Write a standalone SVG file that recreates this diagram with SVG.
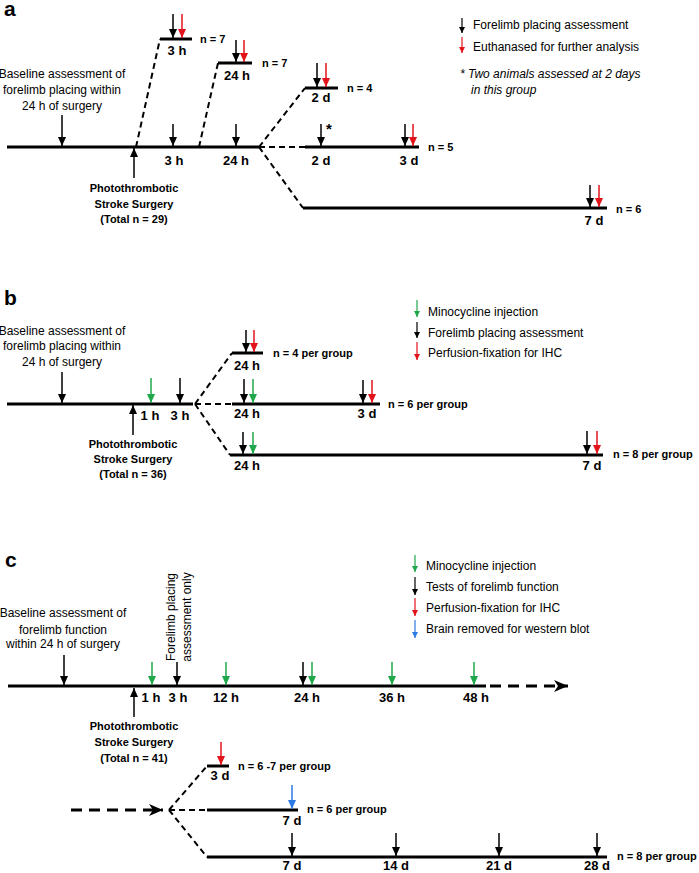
<svg xmlns="http://www.w3.org/2000/svg" width="699" height="873" viewBox="0 0 699 873">
<style>
  text { font-family: "Liberation Sans", Arial, sans-serif; fill: #000; }
  .pl { font-size: 21px; font-weight: bold; }
  .t { font-size: 12px; }
  .tm { font-size: 12px; text-anchor: middle; }
  .b { font-size: 11px; font-weight: bold; text-anchor: middle; }
  .lab { font-size: 13px; font-weight: bold; text-anchor: middle; }
  .n { font-size: 11px; font-weight: bold; }
  .it { font-size: 12px; font-style: italic; }
  .ln { stroke: #000; stroke-width: 3; fill: none; }
  .ds { stroke: #000; stroke-width: 2; fill: none; stroke-dasharray: 6 4; }
  .dsa { stroke: #000; stroke-width: 3; fill: none; stroke-dasharray: 11 7; }
  .ak { stroke: #000; stroke-width: 1.5; marker-end: url(#hk); }
  .ar { stroke: #e3131b; stroke-width: 1.5; marker-end: url(#hr); }
  .ag { stroke: #1ea84b; stroke-width: 1.5; marker-end: url(#hg); }
  .ab { stroke: #2c7be5; stroke-width: 1.5; marker-end: url(#hb); }
  .lk { stroke: #000; stroke-width: 1.2; marker-end: url(#sk); }
  .lr { stroke: #e3131b; stroke-width: 1.2; marker-end: url(#sr); }
  .lg { stroke: #1ea84b; stroke-width: 1.2; marker-end: url(#sg); }
  .lb { stroke: #2c7be5; stroke-width: 1.2; marker-end: url(#sb); }
</style>
<defs>
  <marker id="hk" markerUnits="userSpaceOnUse" markerWidth="10" markerHeight="9" refX="9" refY="4" orient="auto"><path d="M0,0 L9,4 L0,8 z" fill="#000"/></marker>
  <marker id="hr" markerUnits="userSpaceOnUse" markerWidth="10" markerHeight="9" refX="9" refY="4" orient="auto"><path d="M0,0 L9,4 L0,8 z" fill="#e3131b"/></marker>
  <marker id="hg" markerUnits="userSpaceOnUse" markerWidth="10" markerHeight="9" refX="9" refY="4" orient="auto"><path d="M0,0 L9,4 L0,8 z" fill="#1ea84b"/></marker>
  <marker id="hb" markerUnits="userSpaceOnUse" markerWidth="10" markerHeight="9" refX="9" refY="4" orient="auto"><path d="M0,0 L9,4 L0,8 z" fill="#2c7be5"/></marker>
  <marker id="sk" markerUnits="userSpaceOnUse" markerWidth="7" markerHeight="6" refX="6" refY="3" orient="auto"><path d="M0,0 L6,3 L0,6 z" fill="#000"/></marker>
  <marker id="sr" markerUnits="userSpaceOnUse" markerWidth="7" markerHeight="6" refX="6" refY="3" orient="auto"><path d="M0,0 L6,3 L0,6 z" fill="#e3131b"/></marker>
  <marker id="sg" markerUnits="userSpaceOnUse" markerWidth="7" markerHeight="6" refX="6" refY="3" orient="auto"><path d="M0,0 L6,3 L0,6 z" fill="#1ea84b"/></marker>
  <marker id="sb" markerUnits="userSpaceOnUse" markerWidth="7" markerHeight="6" refX="6" refY="3" orient="auto"><path d="M0,0 L6,3 L0,6 z" fill="#2c7be5"/></marker>
  <marker id="st" markerUnits="userSpaceOnUse" markerWidth="15" markerHeight="13" refX="14" refY="6" orient="auto"><path d="M0,0 L14,6 L0,12 L4,6 z" fill="#000"/></marker>
</defs>
<rect width="699" height="873" fill="#fff"/>

<!-- ================= Panel a ================= -->
<g id="panel-a">
  <text class="pl" x="4" y="16">a</text>
  <g id="a-legend">
    <line class="lk" x1="462" y1="18" x2="462" y2="33"/>
    <text class="t" x="473" y="29">Forelimb placing assessment</text>
    <line class="lr" x1="462" y1="37" x2="462" y2="53"/>
    <text class="t" x="473" y="51">Euthanased for further analysis</text>
    <text class="it" x="460" y="78">* Two animals assessed at 2 days</text>
    <text class="it" x="471" y="94">in this group</text>
  </g>
  <g id="a-baseline">
    <text class="tm" x="62" y="78">Baseline assessment of</text>
    <text class="tm" x="62" y="94">forelimb placing within</text>
    <text class="tm" x="62" y="110">24 h of surgery</text>
    <line class="ak" x1="62" y1="115" x2="62" y2="146"/>
  </g>
  <g id="a-surgery">
    <line class="ak" x1="134" y1="178" x2="134" y2="148"/>
    <text class="b" x="134" y="192">Photothrombotic</text>
    <text class="b" x="134" y="207.5">Stroke Surgery</text>
    <text class="b" x="134" y="223">(Total n = 29)</text>
  </g>
  <g id="a-main">
    <path class="ln" d="M7,147 H259"/>
    <line class="ak" x1="173" y1="124" x2="173" y2="146"/>
    <line class="ak" x1="236" y1="124" x2="236" y2="146"/>
    <text class="lab" x="174" y="165">3 h</text>
    <text class="lab" x="236" y="165">24 h</text>
  </g>
  <g id="a-3h">
    <path class="ln" d="M160,39 H192"/>
    <line class="ak" x1="173" y1="14" x2="173" y2="38"/>
    <line class="ar" x1="182" y1="14" x2="182" y2="38"/>
    <text class="lab" x="177" y="55">3 h</text>
    <text class="n" x="200" y="43">n = 7</text>
  </g>
  <g id="a-24h">
    <path class="ln" d="M218,63 H252"/>
    <line class="ak" x1="236" y1="40" x2="236" y2="62"/>
    <line class="ar" x1="244" y1="40" x2="244" y2="62"/>
    <text class="lab" x="237" y="80">24 h</text>
    <text class="n" x="262" y="67">n = 7</text>
  </g>
  <g id="a-2d">
    <path class="ln" d="M305,88 H338"/>
    <line class="ak" x1="317" y1="63" x2="317" y2="87"/>
    <line class="ar" x1="326" y1="63" x2="326" y2="87"/>
    <text class="lab" x="321" y="102">2 d</text>
    <text class="n" x="347" y="92">n = 4</text>
  </g>
  <g id="a-3d">
    <path class="ln" d="M305,147 H419"/>
    <line class="ak" x1="321" y1="124" x2="321" y2="146"/>
    <text x="329" y="134" style="font-size:15px;font-weight:bold;text-anchor:middle">*</text>
    <line class="ak" x1="405" y1="124" x2="405" y2="146"/>
    <line class="ar" x1="413" y1="124" x2="413" y2="146"/>
    <text class="lab" x="321" y="165">2 d</text>
    <text class="lab" x="409" y="165">3 d</text>
    <text class="n" x="428" y="151">n = 5</text>
  </g>
  <g id="a-7d">
    <path class="ln" d="M303,208 H607"/>
    <line class="ak" x1="590" y1="185" x2="590" y2="207"/>
    <line class="ar" x1="599" y1="185" x2="599" y2="207"/>
    <text class="lab" x="594" y="225">7 d</text>
    <text class="n" x="616" y="213">n = 6</text>
  </g>
</g>
<g id="a-connectors">
  <path class="ds" d="M136,147 L160,39"/>
  <path class="ds" d="M199,147 L218,63"/>
  <path class="ds" d="M259,147 L305,88"/>
  <path class="ds" d="M259,147 H305"/>
  <path class="ds" d="M259,147 L303,208"/>
</g>

<!-- ================= Panel b ================= -->
<g id="panel-b">
  <text class="pl" x="4" y="305">b</text>
  <g id="b-legend">
    <line class="lg" x1="417" y1="300" x2="417" y2="317"/>
    <text class="t" x="428" y="316">Minocycline injection</text>
    <line class="lk" x1="417" y1="322" x2="417" y2="338"/>
    <text class="t" x="428" y="337">Forelimb placing assessment</text>
    <line class="lr" x1="417" y1="342" x2="417" y2="360"/>
    <text class="t" x="428" y="357">Perfusion-fixation for IHC</text>
  </g>
  <g id="b-baseline">
    <text class="tm" x="62" y="335">Baseline assessment of</text>
    <text class="tm" x="62" y="350">forelimb placing within</text>
    <text class="tm" x="62" y="366">24 h of surgery</text>
    <line class="ak" x1="62" y1="372" x2="62" y2="403"/>
  </g>
  <g id="b-surgery">
    <line class="ak" x1="133" y1="435" x2="133" y2="405"/>
    <text class="b" x="133" y="448">Photothrombotic</text>
    <text class="b" x="133" y="463">Stroke Surgery</text>
    <text class="b" x="133" y="478">(Total n = 36)</text>
  </g>
  <g id="b-main">
    <path class="ln" d="M7,404 H193"/>
    <line class="ag" x1="151" y1="378" x2="151" y2="403"/>
    <line class="ak" x1="180" y1="378" x2="180" y2="403"/>
    <text class="lab" x="150" y="420">1 h</text>
    <text class="lab" x="180" y="420">3 h</text>
  </g>
  <g id="b-24h">
    <path class="ln" d="M232,353 H263"/>
    <line class="ak" x1="246" y1="330" x2="246" y2="352"/>
    <line class="ar" x1="254" y1="330" x2="254" y2="352"/>
    <text class="lab" x="247" y="370">24 h</text>
    <text class="n" x="273" y="357">n = 4 per group</text>
  </g>
  <g id="b-3d">
    <path class="ln" d="M232,404 H380"/>
    <line class="ak" x1="244" y1="379" x2="244" y2="403"/>
    <line class="ag" x1="253" y1="379" x2="253" y2="403"/>
    <line class="ak" x1="363" y1="380" x2="363" y2="403"/>
    <line class="ar" x1="372" y1="380" x2="372" y2="403"/>
    <text class="lab" x="247" y="418">24 h</text>
    <text class="lab" x="367" y="418">3 d</text>
    <text class="n" x="388" y="408">n = 6 per group</text>
  </g>
  <g id="b-7d">
    <path class="ln" d="M230,455 H603"/>
    <line class="ak" x1="243" y1="432" x2="243" y2="454"/>
    <line class="ag" x1="253" y1="432" x2="253" y2="454"/>
    <line class="ak" x1="587" y1="431" x2="587" y2="454"/>
    <line class="ar" x1="597" y1="431" x2="597" y2="454"/>
    <text class="lab" x="247" y="470">24 h</text>
    <text class="lab" x="592" y="470">7 d</text>
    <text class="n" x="613" y="458">n = 8 per group</text>
  </g>
</g>
<g id="b-connectors">
  <path class="ds" d="M195,404 L232,353"/>
  <path class="ds" d="M195,404 H232"/>
  <path class="ds" d="M195,404 L230,455"/>
</g>

<!-- ================= Panel c ================= -->
<g id="panel-c">
  <text class="pl" x="5" y="567">c</text>
  <g id="c-legend">
    <line class="lg" x1="415" y1="555" x2="415" y2="572"/>
    <text class="t" x="426" y="570">Minocycline injection</text>
    <line class="lk" x1="415" y1="577" x2="415" y2="595"/>
    <text class="t" x="426" y="591">Tests of forelimb function</text>
    <line class="lr" x1="415" y1="598" x2="415" y2="616"/>
    <text class="t" x="426" y="612">Perfusion-fixation for IHC</text>
    <line class="lb" x1="415" y1="620" x2="415" y2="638"/>
    <text class="t" x="426" y="633">Brain removed for western blot</text>
  </g>
  <g id="c-baseline">
    <text class="tm" x="63" y="617">Baseline assessment of</text>
    <text class="tm" x="63" y="634">forelimb function</text>
    <text class="tm" x="63" y="648">within 24 h of surgery</text>
    <line class="ak" x1="64" y1="655" x2="64" y2="685"/>
  </g>
  <g id="c-note">
    <text class="tm" transform="translate(175,617) rotate(-90)">Forelimb placing</text>
    <text class="tm" transform="translate(191,617) rotate(-90)">assessment only</text>
  </g>
  <g id="c-surgery">
    <line class="ak" x1="134" y1="717" x2="134" y2="688"/>
    <text class="b" x="134" y="730">Photothrombotic</text>
    <text class="b" x="134" y="746">Stroke Surgery</text>
    <text class="b" x="134" y="762">(Total n = 41)</text>
  </g>
  <g id="c-main">
    <path class="ln" d="M8,686 H486"/>
    <line class="ag" x1="152" y1="662" x2="152" y2="685"/>
    <line class="ak" x1="177" y1="662" x2="177" y2="685"/>
    <line class="ag" x1="226" y1="662" x2="226" y2="685"/>
    <line class="ak" x1="303" y1="662" x2="303" y2="685"/>
    <line class="ag" x1="312" y1="662" x2="312" y2="685"/>
    <line class="ag" x1="392" y1="662" x2="392" y2="685"/>
    <line class="ag" x1="474" y1="662" x2="474" y2="685"/>
    <text class="lab" x="151" y="702">1 h</text>
    <text class="lab" x="178" y="702">3 h</text>
    <text class="lab" x="226" y="702">12 h</text>
    <text class="lab" x="307" y="702">24 h</text>
    <text class="lab" x="392" y="702">36 h</text>
    <text class="lab" x="476" y="702">48 h</text>
  </g>
  <g id="c-3d">
    <path class="ln" d="M207,766 H229"/>
    <line class="ar" x1="221" y1="742" x2="221" y2="765"/>
    <text class="lab" x="220" y="780">3 d</text>
    <text class="n" x="238" y="770">n = 6 -7 per group</text>
  </g>
  <g id="c-7d-wb">
    <path class="ln" d="M207,810 H298"/>
    <line class="ab" x1="292" y1="785" x2="292" y2="809"/>
    <text class="lab" x="292" y="825">7 d</text>
    <text class="n" x="307" y="813">n = 6 per group</text>
  </g>
  <g id="c-28d">
    <path class="ln" d="M207,857 H607"/>
    <line class="ak" x1="292" y1="833" x2="292" y2="856"/>
    <line class="ak" x1="396" y1="833" x2="396" y2="856"/>
    <line class="ak" x1="499" y1="833" x2="499" y2="856"/>
    <line class="ak" x1="597" y1="833" x2="597" y2="856"/>
    <text class="lab" x="292" y="870">7 d</text>
    <text class="lab" x="396" y="870">14 d</text>
    <text class="lab" x="499" y="870">21 d</text>
    <text class="lab" x="597" y="870">28 d</text>
    <text class="n" x="617" y="860">n = 8 per group</text>
  </g>
</g>
<g id="c-connectors">
  <path class="dsa" d="M490,686 H568" marker-end="url(#st)"/>
  <path class="dsa" d="M71,810 H163" marker-end="url(#st)"/>
  <path class="ds" d="M169,810 L207,766"/>
  <path class="ds" d="M169,810 H207"/>
  <path class="ds" d="M169,810 L207,857"/>
</g>
</svg>
